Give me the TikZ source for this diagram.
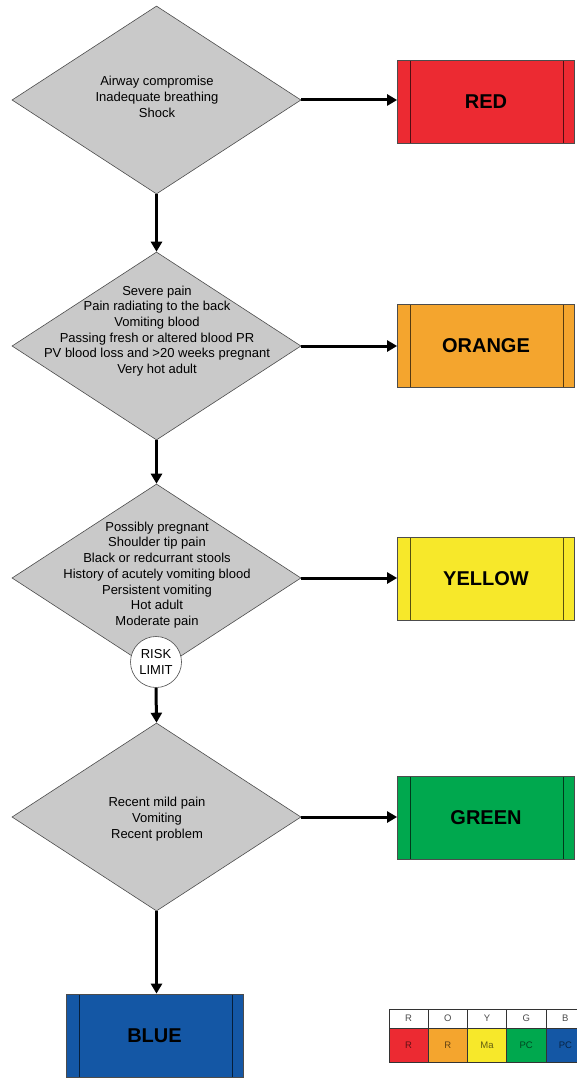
\documentclass[tikz,border=0pt]{standalone}
\usepackage{fontspec}
\setmainfont{Liberation Sans}
\usetikzlibrary{shapes.geometric,arrows.meta}

\definecolor{triRed}{RGB}{236,42,50}
\definecolor{triOrange}{RGB}{244,165,46}
\definecolor{triYellow}{RGB}{247,232,42}
\definecolor{triGreen}{RGB}{0,168,78}
\definecolor{triBlue}{RGB}{20,87,165}
\definecolor{decisionGrey}{RGB}{201,201,201}

\begin{document}
\begin{tikzpicture}[x=1pt,y=-1pt,
  decision/.style={diamond, fill=decisionGrey, draw=black!70, line width=0.6pt,
    minimum width=289pt, minimum height=188pt, inner sep=0pt},
  crit/.style={align=center, inner sep=0pt, font=\fontsize{13}{15.7}\selectfont},
  category/.style={rectangle, draw=black!70, line width=0.8pt,
    minimum width=177pt, minimum height=83pt, inner sep=0pt,
    font=\fontsize{20}{24}\selectfont\bfseries,
    path picture={
      \draw[black, opacity=0.65, line width=0.9pt]
        ([xshift=13pt]path picture bounding box.north west) -- ([xshift=13pt]path picture bounding box.south west)
        ([xshift=-11pt]path picture bounding box.north east) -- ([xshift=-11pt]path picture bounding box.south east);
    }},
  flow/.style={line width=3pt, -{Triangle[length=10pt,width=11pt]}},
  limit/.style={circle, draw=black!70, fill=white, line width=0.6pt,
    minimum size=51pt, inner sep=0pt, align=center,
    font=\fontsize{13}{16}\selectfont},
  keyhead/.style={rectangle, draw=black!80, fill=white, line width=0.6pt,
    minimum width=39.2pt, minimum height=19pt, inner sep=0pt,
    font=\fontsize{9.5}{11}\selectfont, text=black!70},
  keycell/.style={keyhead, minimum height=34pt, text=black, text opacity=0.6},
]
\useasboundingbox (0,0) rectangle (577,1078);
\clip (0,0) rectangle (577,1078);

% decision diamonds
\node[decision] (d1) at (156.5,100) {};
\node[decision] (d2) at (156.5,346) {};
\node[decision] (d3) at (156.5,578) {};
\node[decision] (d4) at (156.5,817) {};

\node[crit] (t1) at (157,97) {Airway compromise\\Inadequate breathing\\Shock};
\node[crit] (t2) at (157,331) {Severe pain\\Pain radiating to the back\\Vomiting blood\\Passing fresh or altered blood PR\\PV blood loss and >20 weeks pregnant\\Very hot adult};
\node[crit] (t3) at (157,575) {Possibly pregnant\\Shoulder tip pain\\Black or redcurrant stools\\History of acutely vomiting blood\\Persistent vomiting\\Hot adult\\Moderate pain};
\node[crit] (t4) at (157,819) {Recent mild pain\\Vomiting\\Recent problem};

% triage categories
\node[category, fill=triRed]    (red)    at (486,102)    {RED};
\node[category, fill=triOrange] (orange) at (486,346)    {ORANGE};
\node[category, fill=triYellow] (yellow) at (486,579)    {YELLOW};
\node[category, fill=triGreen]  (green)  at (486,817.5)  {GREEN};
\node[category, fill=triBlue]   (blue)   at (154.5,1035.5) {BLUE};

\node[limit] (risk) at (156,662) {RISK\\LIMIT};

% connectors
\draw[flow] (d1.east) -- (d1.east -| red.west);
\draw[flow] (d2.east) -- (d2.east -| orange.west);
\draw[flow] (d3.east) -- (d3.east -| yellow.west);
\draw[flow] (d4.east) -- (d4.east -| green.west);
\draw[flow] (d1.south) -- (d2.north);
\draw[flow] (d2.south) -- (d3.north);
\draw[flow] (risk.south) -- (d4.north);
\draw[flow] (d4.south) -- (d4.south |- blue.north);

% key table
\node[keyhead] (kR) at (408.6,1018.5) {R};
\node[keyhead] (kO) at (447.8,1018.5) {O};
\node[keyhead] (kY) at (487.0,1018.5) {Y};
\node[keyhead] (kG) at (526.2,1018.5) {G};
\node[keyhead] (kB) at (565.4,1018.5) {B};
\node[keycell, fill=triRed]    (vR) at (408.6,1045) {R};
\node[keycell, fill=triOrange] (vO) at (447.8,1045) {R};
\node[keycell, fill=triYellow] (vY) at (487.0,1045) {Ma};
\node[keycell, fill=triGreen]  (vG) at (526.2,1045) {PC};
\node[keycell, fill=triBlue]   (vB) at (565.4,1045) {PC};
\end{tikzpicture}
\end{document}
